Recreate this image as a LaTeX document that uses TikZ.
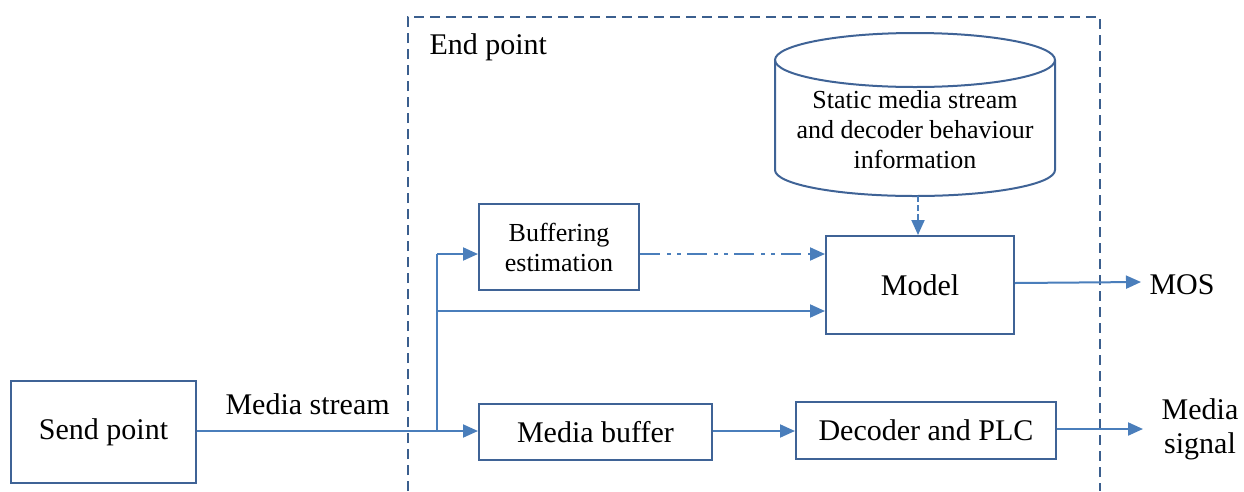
\documentclass[tikz,border=0pt]{standalone}
\usepackage{fontspec}
\setmainfont{Liberation Serif}
\usetikzlibrary{arrows.meta}
\definecolor{boxc}{HTML}{3F6396}
\definecolor{arrc}{HTML}{4A7EBB}
\definecolor{dashc}{HTML}{3B5F8E}
\tikzset{
  bigtext/.style={font=\fontsize{30}{34}\selectfont},
  smalltext/.style={font=\fontsize{26}{30}\selectfont},
  blk/.style={draw=boxc, line width=2pt, inner sep=0pt, anchor=north west},
  conn/.style={draw=arrc, line width=2pt},
  arr/.style={conn, -{Triangle[length=15pt,width=13pt]}},
}
\begin{document}
\begin{tikzpicture}[x=1pt,y=-1pt]
\useasboundingbox (0,0) rectangle (1244,491);
% end point boundary
\draw[dashc, line width=2pt, dash pattern=on 10pt off 6pt] (408,491) -- (408,17) -- (1100,17) -- (1100,491);
\node[bigtext, anchor=west] (ep) at (426,47) {End point};
% blocks
\node[blk, minimum width=185pt, minimum height=102pt, bigtext] (send) at (10,380) {Send point};
\node[blk, minimum width=160pt, minimum height=86pt, smalltext, align=center] (buf) at (478,203) {Buffering\\estimation};
\node[blk, minimum width=188pt, minimum height=98pt, bigtext] (model) at (825,235) {Model};
\node[blk, minimum width=233pt, minimum height=56pt, bigtext] (mbuf) at (478,403) {Media buffer};
\node[blk, minimum width=260pt, minimum height=57pt, bigtext] (dec) at (795,401) {Decoder and PLC};
% cylinder
\draw[boxc, line width=2pt] (775,60) -- (775,170) arc[start angle=180, end angle=360, x radius=140pt, y radius=26pt] -- (1055,60);
\draw[boxc, line width=2pt] (915,60) ellipse[x radius=140pt, y radius=27pt];
\node[smalltext, align=center] (db) at (915,130) {Static media stream\\and decoder behaviour\\information};
\coordinate (dbbot) at (918,196);
% labels
\node[bigtext, anchor=west] (ms) at (222,404) {Media stream};
\node[bigtext, anchor=west] (mos) at (1146,285) {MOS};
\node[bigtext, align=center] (sig) at (1200,429) {Media\\signal};
% connectors
\coordinate (j) at (437,431);
\coordinate (jt) at (437,254);
\coordinate (jm) at (437,311);
\draw[conn] (send.east |- j) -- (j);
\draw[arr] (j) -- (mbuf.west |- j);
\draw[conn] (j) -- (jt);
\draw[arr] (jt) -- (buf.west |- jt);
\draw[arr] (jm) -- (model.west |- jm);
\draw[arr, dash pattern=on 20pt off 7pt on 4pt off 6pt on 4pt off 6pt] (buf.east |- jt) -- (model.west |- jt);
\draw[arr, dash pattern=on 6pt off 3pt] (dbbot) -- (dbbot |- model.north);
\coordinate (mosend) at (1141,282);
\draw[arr] (model.east |- 0,283) -- (mosend);
\draw[arr] (mbuf.east |- j) -- (dec.west |- j);
\coordinate (sigend) at (1143,429);
\draw[arr] (dec.east |- sigend) -- (sigend);
\end{tikzpicture}
\end{document}
